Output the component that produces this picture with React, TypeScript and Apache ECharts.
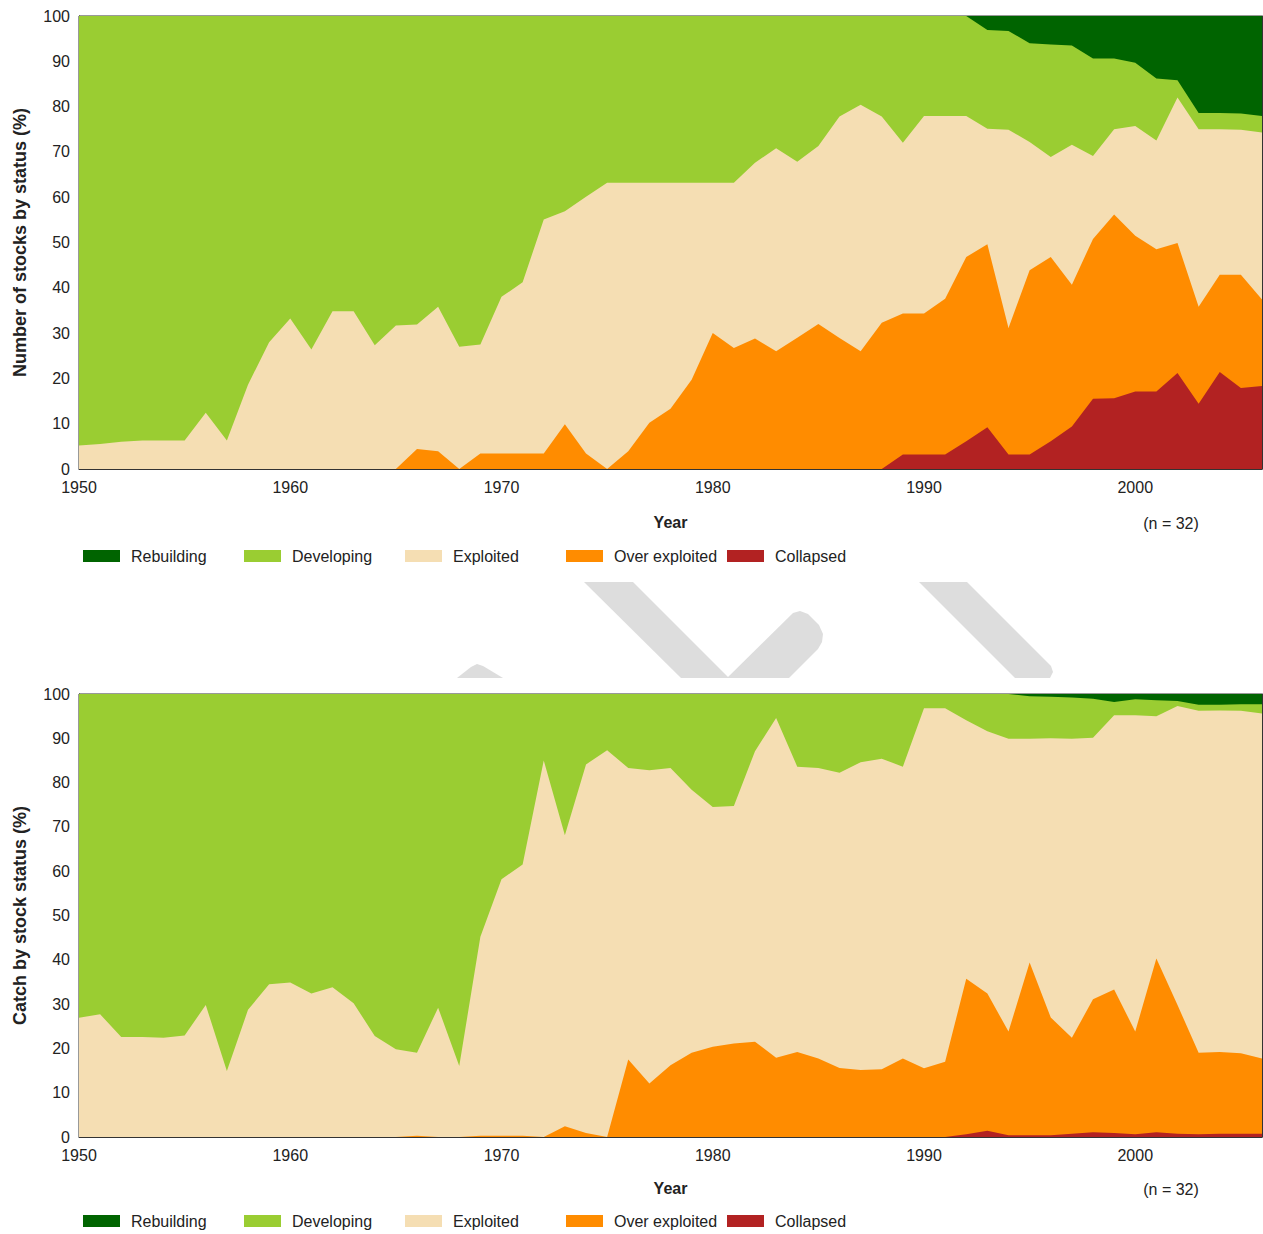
import React, { useEffect, useRef } from "react";
import * as echarts from "echarts";

const years = [
  "1950", "1951", "1952", "1953", "1954", "1955", "1956", "1957", "1958", "1959",
  "1960", "1961", "1962", "1963", "1964", "1965", "1966", "1967", "1968", "1969",
  "1970", "1971", "1972", "1973", "1974", "1975", "1976", "1977", "1978", "1979",
  "1980", "1981", "1982", "1983", "1984", "1985", "1986", "1987", "1988", "1989",
  "1990", "1991", "1992", "1993", "1994", "1995", "1996", "1997", "1998", "1999",
  "2000", "2001", "2002", "2003", "2004", "2005", "2006",
];

const statusNames = ["Rebuilding", "Developing", "Exploited", "Over exploited", "Collapsed"];
const statusColors = ["#006400", "#9acd32", "#f5deb3", "#ff8c00", "#b22222"];

// Upper edge (cumulative %) of each status band, bands stacked from Collapsed upward.
// Panel 1: number of stocks by status
const stocksEdgeRebuilding = [
  100, 100, 100, 100, 100, 100, 100, 100, 100, 100,
  100, 100, 100, 100, 100, 100, 100, 100, 100, 100,
  100, 100, 100, 100, 100, 100, 100, 100, 100, 100,
  100, 100, 100, 100, 100, 100, 100, 100, 100, 100,
  100, 100, 100, 100, 100, 100, 100, 100, 100, 100,
  100, 100, 100, 100, 100, 100, 100,
];
const stocksEdgeDeveloping = [
  100, 100, 100, 100, 100, 100, 100, 100, 100, 100,
  100, 100, 100, 100, 100, 100, 100, 100, 100, 100,
  100, 100, 100, 100, 100, 100, 100, 100, 100, 100,
  100, 100, 100, 100, 100, 100, 100, 100, 100, 100,
  100, 100, 100, 96.9, 96.7, 94.0, 93.7, 93.5, 90.6, 90.6,
  89.7, 86.2, 85.8, 78.6, 78.6, 78.5, 77.9,
];
const stocksEdgeExploited = [
  5.2, 5.5, 6.0, 6.3, 6.3, 6.3, 12.4, 6.3, 18.6, 28.0,
  33.2, 26.4, 34.8, 34.8, 27.3, 31.7, 31.9, 35.8, 27.0, 27.5,
  38.0, 41.2, 55.1, 56.9, 60.1, 63.2, 63.2, 63.2, 63.2, 63.2,
  63.2, 63.2, 67.6, 70.8, 67.8, 71.3, 77.8, 80.4, 77.8, 72.0,
  77.9, 77.9, 77.9, 75.1, 74.9, 72.2, 68.9, 71.6, 69.1, 75.0,
  75.7, 72.5, 82.0, 75.0, 75.0, 74.9, 74.3,
];
const stocksEdgeOverExploited = [
  0, 0, 0, 0, 0, 0, 0, 0, 0, 0,
  0, 0, 0, 0, 0, 0, 4.4, 3.9, 0, 3.4,
  3.4, 3.4, 3.4, 9.9, 3.4, 0, 3.9, 10.2, 13.3, 19.7,
  30.0, 26.7, 28.8, 26.0, 29.0, 32.0, 28.9, 26.0, 32.3, 34.3,
  34.3, 37.6, 46.8, 49.6, 31.1, 43.9, 46.8, 40.7, 50.8, 56.2,
  51.5, 48.5, 49.9, 35.8, 42.9, 42.9, 37.4,
];
const stocksEdgeCollapsed = [
  0, 0, 0, 0, 0, 0, 0, 0, 0, 0,
  0, 0, 0, 0, 0, 0, 0, 0, 0, 0,
  0, 0, 0, 0, 0, 0, 0, 0, 0, 0,
  0, 0, 0, 0, 0, 0, 0, 0, 0, 3.2,
  3.2, 3.2, 6.1, 9.2, 3.2, 3.2, 6.1, 9.4, 15.5, 15.6,
  17.1, 17.1, 21.2, 14.4, 21.4, 17.9, 18.3,
];

// Panel 2: catch by stock status
const catchEdgeRebuilding = [
  100, 100, 100, 100, 100, 100, 100, 100, 100, 100,
  100, 100, 100, 100, 100, 100, 100, 100, 100, 100,
  100, 100, 100, 100, 100, 100, 100, 100, 100, 100,
  100, 100, 100, 100, 100, 100, 100, 100, 100, 100,
  100, 100, 100, 100, 100, 100, 100, 100, 100, 100,
  100, 100, 100, 100, 100, 100, 100,
];
const catchEdgeDeveloping = [
  100, 100, 100, 100, 100, 100, 100, 100, 100, 100,
  100, 100, 100, 100, 100, 100, 100, 100, 100, 100,
  100, 100, 100, 100, 100, 100, 100, 100, 100, 100,
  100, 100, 100, 100, 100, 100, 100, 100, 100, 100,
  100, 100, 100, 100, 100, 99.5, 99.4, 99.2, 98.9, 98.2,
  98.8, 98.6, 98.4, 97.6, 97.6, 97.7, 97.7,
];
const catchEdgeExploited = [
  26.9, 27.7, 22.6, 22.6, 22.4, 22.9, 29.8, 14.9, 28.7, 34.5,
  34.9, 32.4, 33.8, 30.2, 22.8, 19.8, 19.0, 29.2, 16.0, 45.2,
  58.2, 61.5, 85.0, 68.1, 84.1, 87.3, 83.3, 82.8, 83.3, 78.4,
  74.5, 74.7, 87.1, 94.6, 83.6, 83.3, 82.2, 84.6, 85.4, 83.6,
  96.8, 96.8, 94.1, 91.6, 89.9, 89.9, 90.0, 89.9, 90.1, 95.2,
  95.2, 95.0, 97.3, 96.2, 96.3, 96.2, 95.6,
];
const catchEdgeOverExploited = [
  0, 0, 0, 0, 0, 0, 0, 0, 0, 0,
  0, 0, 0, 0, 0, 0, 0.3, 0, 0, 0.3,
  0.3, 0.3, 0, 2.4, 0.9, 0, 17.5, 12.1, 16.2, 19.0,
  20.4, 21.1, 21.5, 17.9, 19.2, 17.7, 15.6, 15.1, 15.3, 17.7,
  15.5, 17.0, 35.7, 32.4, 23.8, 39.4, 27.0, 22.4, 31.1, 33.3,
  23.8, 40.3, 29.8, 19.0, 19.2, 18.9, 17.7,
];
const catchEdgeCollapsed = [
  0, 0, 0, 0, 0, 0, 0, 0, 0, 0,
  0, 0, 0, 0, 0, 0, 0, 0, 0, 0,
  0, 0, 0, 0, 0, 0, 0, 0, 0, 0,
  0, 0, 0, 0, 0, 0, 0, 0, 0, 0,
  0, 0, 0.6, 1.4, 0.4, 0.4, 0.4, 0.75, 1.1, 0.9,
  0.6, 1.1, 0.75, 0.6, 0.75, 0.75, 0.75,
];

const panelTitles = ["Number of stocks by status (%)", "Catch by stock status (%)"];
const sampleNote = "(n = 32)";

const SANS = "'Liberation Sans', Arial, sans-serif";
const FS = 16;
const TEXT = "#222222";
const AXIS = "#333333";

export default function App() {
  const ref = useRef<HTMLDivElement>(null);

  useEffect(() => {
    if (!ref.current) return;
    const chart = echarts.init(ref.current, null, { renderer: "svg" });

    const panels = [
      [stocksEdgeRebuilding, stocksEdgeDeveloping, stocksEdgeExploited, stocksEdgeOverExploited, stocksEdgeCollapsed],
      [catchEdgeRebuilding, catchEdgeDeveloping, catchEdgeExploited, catchEdgeOverExploited, catchEdgeCollapsed],
    ];
    const grids = [
      { left: 79, top: 16, width: 1183, height: 453 },
      { left: 79, top: 694, width: 1183, height: 443 },
    ];
    const yearGap = [45, 43];
    const legendTop = [548, 1213];
    const legendLeft = [83, 244, 405, 566, 727];
    const noteY = [523, 1189];

    const xAxis: any[] = [];
    const yAxis: any[] = [];
    const series: any[] = [];
    const legend: any[] = [];

    grids.forEach((g, gi) => {
      xAxis.push({
        type: "category",
        gridIndex: gi,
        data: years,
        boundaryGap: false,
        axisLine: { show: true, lineStyle: { color: AXIS, width: 1 } },
        axisTick: { show: true, inside: true, length: 8, interval: 9, lineStyle: { color: AXIS } },
        axisLabel: { interval: 9, fontSize: FS, fontFamily: SANS, color: TEXT, margin: 10 },
        splitLine: { show: false },
        name: "Year",
        nameLocation: "middle",
        nameGap: yearGap[gi],
        nameTextStyle: { fontSize: FS, fontWeight: "bold", fontFamily: SANS, color: TEXT },
      });
      yAxis.push({
        type: "value",
        gridIndex: gi,
        min: 0,
        max: 100,
        interval: 10,
        axisLine: { show: true, lineStyle: { color: AXIS, width: 1 } },
        axisTick: { show: true, inside: true, length: 7, lineStyle: { color: AXIS } },
        axisLabel: { fontSize: FS, fontFamily: SANS, color: TEXT, margin: 9 },
        splitLine: { show: false },
        name: panelTitles[gi],
        nameLocation: "middle",
        nameGap: 50,
        nameTextStyle: { fontSize: 18, fontWeight: "bold", fontFamily: SANS, color: TEXT },
      });
      yAxis.push({
        type: "value",
        gridIndex: gi,
        position: "right",
        min: 0,
        max: 100,
        interval: 10,
        axisLine: { show: true, lineStyle: { color: AXIS, width: 1 } },
        axisTick: { show: true, inside: true, length: 7, lineStyle: { color: AXIS } },
        axisLabel: { show: false },
        splitLine: { show: false },
      });
      panels[gi].forEach((edge, si) => {
        series.push({
          type: "line",
          name: statusNames[si],
          xAxisIndex: gi,
          yAxisIndex: gi * 2,
          data: edge,
          symbol: "none",
          showSymbol: false,
          silent: true,
          color: statusColors[si],
          itemStyle: { color: statusColors[si] },
          lineStyle: { width: 0, color: statusColors[si] },
          areaStyle: { color: statusColors[si], opacity: 1 },
        });
      });
      statusNames.forEach((nm, si) => {
        legend.push({
          data: [nm],
          left: legendLeft[si],
          top: legendTop[gi],
          padding: 0,
          icon: "rect",
          itemWidth: 37,
          itemHeight: 12,
          selectedMode: false,
          textStyle: { fontSize: FS, fontFamily: SANS, color: TEXT, padding: [0, 0, 0, 6] },
        });
      });
    });

    const gray = "#dddddd";
    const graphic: any[] = [
      {
        type: "polygon",
        shape: { points: [[584, 582], [633, 582], [729, 678], [681, 678]] },
        style: { fill: gray },
        silent: true,
      },
      {
        type: "polygon",
        shape: {
          points: [[727, 678], [793, 613], [800, 611], [808, 614], [819, 625], [823, 634], [822, 642], [818, 649], [789, 678]],
        },
        style: { fill: gray },
        silent: true,
      },
      {
        type: "polygon",
        shape: { points: [[457, 678], [471, 667], [477, 664], [483, 666], [503, 678]] },
        style: { fill: gray },
        silent: true,
      },
      {
        type: "polygon",
        shape: { points: [[919, 582], [967, 582], [1051, 666], [1053, 672], [1050, 678], [1015, 678]] },
        style: { fill: gray },
        silent: true,
      },
      ...noteY.map((y) => ({
        type: "text",
        x: 1171,
        y,
        style: {
          text: sampleNote,
          fontSize: FS,
          fontFamily: SANS,
          fill: TEXT,
          textAlign: "center",
          textVerticalAlign: "middle",
        },
      })),
    ];

    chart.setOption({
      animation: false,
      backgroundColor: "#ffffff",
      grid: grids.map((g) => ({ ...g, show: true, borderColor: AXIS, borderWidth: 1, backgroundColor: "transparent" })),
      xAxis,
      yAxis,
      series,
      legend,
      graphic,
    });

    return () => chart.dispose();
  }, []);

  return (
    <div
      ref={ref}
      style={{ position: "absolute", left: 0, top: 0, width: 1263, height: 1234 }}
    />
  );
}
